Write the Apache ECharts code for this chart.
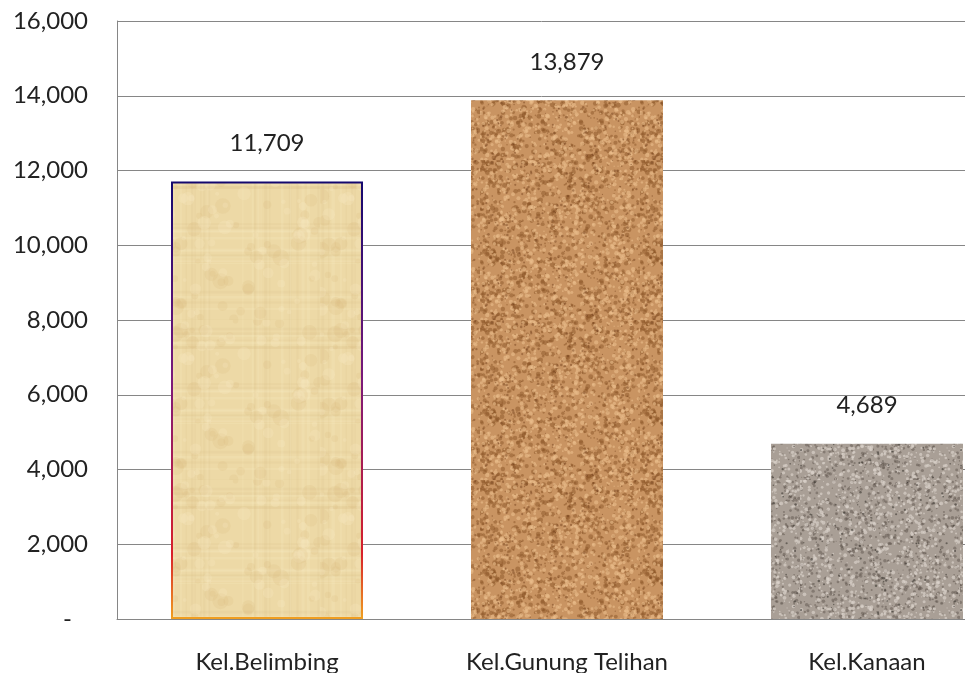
<!DOCTYPE html>
<html>
<head>
<meta charset="utf-8">
<script src="https://cdn.jsdelivr.net/npm/echarts@6/dist/echarts.min.js"></script>
<style>
  html, body { margin: 0; padding: 0; background: #fff; }
  #chart { width: 965px; height: 673px; }
</style>
</head>
<body>
<div id="chart"></div>
<script>
// data
var categories = ['Kel.Belimbing', 'Kel.Gunung Telihan', 'Kel.Kanaan'];
var values = [11709, 13879, 4689];
var yTicks = [0, 2000, 4000, 6000, 8000, 10000, 12000, 14000, 16000];

// seeded noise so the textures are the same every run
function rng(seed) {
  return function () {
    seed |= 0; seed = seed + 0x6D2B79F5 | 0;
    var t = Math.imul(seed ^ seed >>> 15, 1 | seed);
    t = t + Math.imul(t ^ t >>> 7, 61 | t) ^ t;
    return ((t ^ t >>> 14) >>> 0) / 4294967296;
  };
}

function makeTexture(base, spots, fibers, seed) {
  var c = document.createElement('canvas');
  c.width = 160; c.height = 160;
  var ctx = c.getContext('2d');
  var r = rng(seed);
  ctx.fillStyle = base;
  ctx.fillRect(0, 0, 160, 160);
  if (fibers) {
    // papyrus-like streaks
    for (var i = 0; i < 50; i++) {
      ctx.fillStyle = r() < 0.5 ? 'rgba(205,175,115,0.10)' : 'rgba(255,245,215,0.14)';
      if (r() < 0.5) ctx.fillRect(0, r() * 160, 160, 1 + r() * 2);
      else ctx.fillRect(r() * 160, 0, 1 + r() * 2, 160);
    }
  }
  spots.forEach(function (s) {
    for (var i = 0; i < s.n; i++) {
      ctx.fillStyle = s.c;
      ctx.beginPath();
      ctx.arc(r() * 160, r() * 160, s.r * (0.4 + r()), 0, Math.PI * 2);
      ctx.fill();
    }
  });
  return c;
}

var papyrus = makeTexture('#edd9a6', [
  { c: 'rgba(215,185,120,0.18)', r: 6, n: 60 },
  { c: 'rgba(250,236,200,0.22)', r: 5, n: 60 }
], true, 11);
var cork = makeTexture('#c99462', [
  { c: 'rgba(140,85,40,0.5)', r: 1.8, n: 900 },
  { c: 'rgba(235,190,140,0.6)', r: 1.6, n: 900 },
  { c: 'rgba(110,60,25,0.45)', r: 1.0, n: 300 }
], false, 23);
var granite = makeTexture('#a99f96', [
  { c: 'rgba(95,85,78,0.5)', r: 1.3, n: 900 },
  { c: 'rgba(220,212,204,0.65)', r: 1.4, n: 1000 },
  { c: 'rgba(50,45,40,0.55)', r: 0.9, n: 150 }
], false, 37);

var fills = [papyrus, cork, granite];

var chart = echarts.init(document.getElementById('chart'));

var option = {
  animation: false,
  // plot runs past the right edge of the window, like the cropped original
  grid: { left: 117, top: 21, width: 900, height: 598, outerBoundsMode: 'none', containLabel: false },
  xAxis: {
    type: 'category',
    data: categories,
    axisLine: { lineStyle: { color: '#868686' } },
    axisTick: { show: false },
    axisLabel: { color: '#222', fontFamily: 'Lato', fontSize: 24, margin: 31 }
  },
  yAxis: {
    type: 'value',
    min: yTicks[0],
    max: yTicks[yTicks.length - 1],
    interval: 2000,
    axisLine: { show: true, lineStyle: { color: '#868686' } },
    axisTick: { show: false },
    splitLine: { lineStyle: { color: '#868686' } },
    axisLabel: {
      color: '#222', fontFamily: 'Lato', fontSize: 24, margin: 29,
      formatter: function (v) {
        return v === 0 ? '{d|-}' : v.toLocaleString('en-US');
      },
      rich: { d: { fontFamily: 'Lato', fontSize: 24, color: '#222', padding: [0, 16, 0, 0] } }
    }
  },
  series: [{
    type: 'bar',
    barWidth: '64%',
    data: values.map(function (v, i) {
      var item = { value: v, itemStyle: { color: { image: fills[i], repeat: 'repeat' } } };
      if (i === 0) {
        item.itemStyle.borderWidth = 2;
        item.itemStyle.borderColor = new echarts.graphic.LinearGradient(0, 0, 0, 1, [
          { offset: 0, color: '#14086e' },
          { offset: 0.45, color: '#7a1a7a' },
          { offset: 0.85, color: '#d8202a' },
          { offset: 1, color: '#f0a020' }
        ]);
      }
      return item;
    }),
    label: {
      show: true,
      position: 'top',
      distance: 26,
      color: '#222',
      fontFamily: 'Lato',
      fontSize: 24,
      formatter: function (p) { return p.value.toLocaleString('en-US'); }
    }
  }]
};

chart.setOption(option);
</script>
</body>
</html>
